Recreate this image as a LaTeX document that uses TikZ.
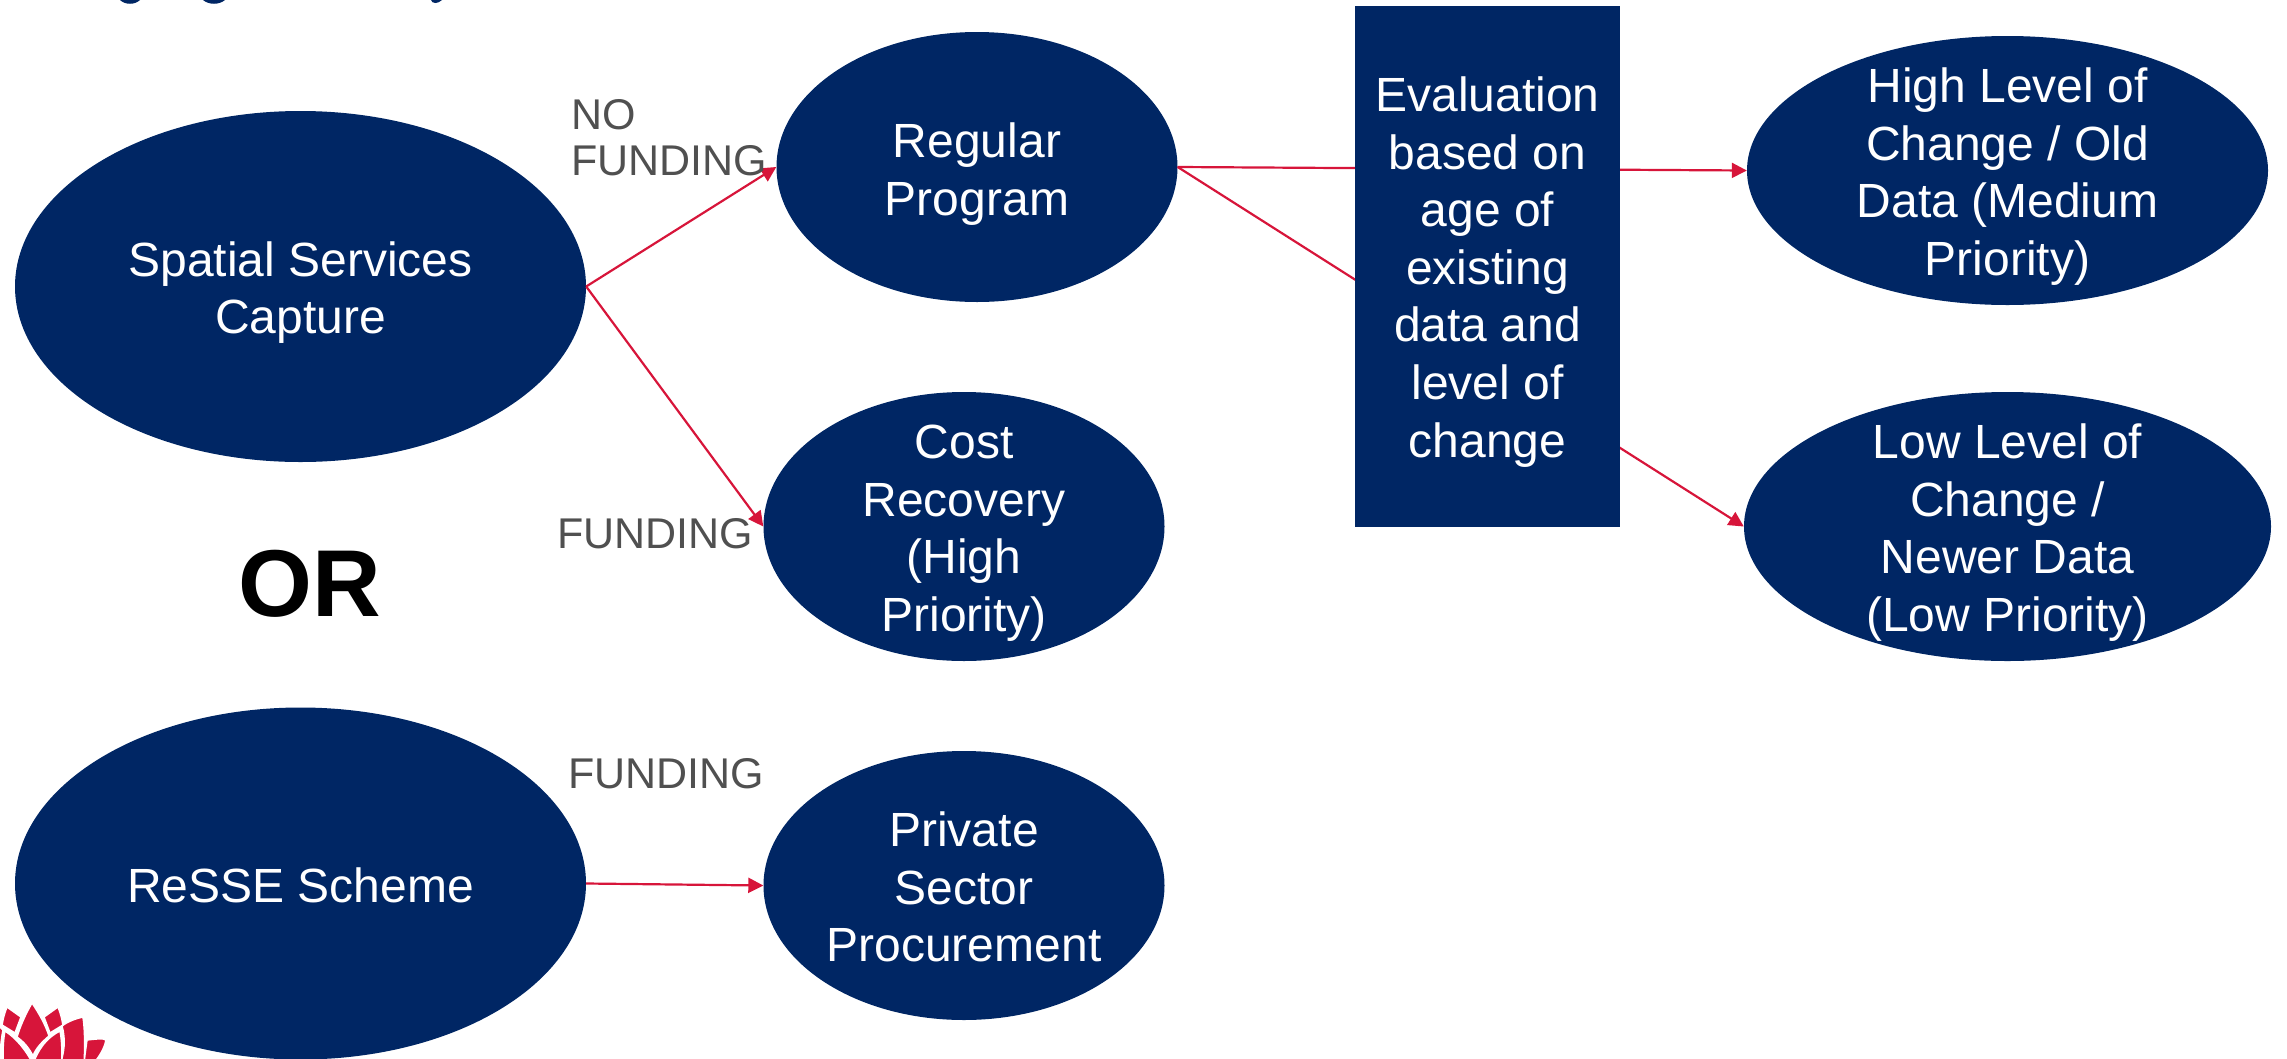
\documentclass[tikz,border=0pt]{standalone}
\usepackage{fontspec}
\setmainfont{Liberation Sans}
\usetikzlibrary{arrows.meta,shapes.geometric}
\definecolor{navy}{HTML}{002664}
\definecolor{nswred}{HTML}{D7153A}
\definecolor{lab}{HTML}{505050}
\newcommand{\stacktxt}[2][13pt]{\raisebox{-#1}[0pt][0pt]{\begin{tabular}{@{}c@{}}#2\end{tabular}}}
\tikzset{
  oval/.style={ellipse,fill=navy,text=white,inner sep=0pt,font=\fontsize{48}{57.6}\selectfont},
  evalbox/.style={rectangle,fill=navy,text=white,inner sep=0pt,font=\fontsize{48}{57.6}\selectfont},
  lnk/.style={draw=nswred,line width=2.2pt,-{Triangle[length=15pt,width=15pt]}},
  lbl/.style={text=lab,inner sep=0pt,align=left,anchor=base west,font=\fontsize{43}{46}\selectfont},
  petal/.style={fill=nswred,draw=white,line width=1.5pt,line join=round},
}
\begin{document}
\begin{tikzpicture}[x=1pt,y=-1pt]
\useasboundingbox (0,0) rectangle (2287,1058);
% cropped title descenders
\fill[navy] (120,0) .. controls (125,5) and (135,5) .. (140,0) -- cycle;
\fill[navy] (203,0) .. controls (209,5) and (219,5) .. (225,0) -- cycle;
\fill[navy] (431,0) .. controls (432,4) and (438,4) .. (442,0) -- cycle;
% logo
\begin{scope}
\clip (0,990) rectangle (115,1058);
\fill[petal] (87,1040) .. controls (95,1039) and (104,1038) .. (106,1040) .. controls (104,1050) and (99,1056) .. (95,1062) -- (84,1062) -- cycle;
\fill[petal] (83,1017) .. controls (78,1018) and (68,1021) .. (62,1026) .. controls (66,1040) and (64,1054) .. (60,1064) -- (84,1064) .. controls (85,1050) and (85,1030) .. (83,1017) -- cycle;
\fill[petal] (7,1007) .. controls (4,1014) and (3,1020) .. (2,1025) -- (15,1033) -- (21,1017) -- cycle;
\fill[petal] (58,1007) .. controls (61,1014) and (62,1020) .. (63,1025) -- (50,1033) -- (44,1017) -- cycle;
\fill[petal] (32,1003) .. controls (25,1015) and (20,1027) .. (17,1037) .. controls (24,1042) and (29,1048) .. (33,1056) .. controls (36,1048) and (42,1042) .. (49,1036) .. controls (46,1026) and (39,1013) .. (32,1003) -- cycle;
\fill[petal] (5,1031) .. controls (16,1038) and (26,1050) .. (33,1064) -- (3,1064) .. controls (3,1052) and (3,1040) .. (5,1031) -- cycle;
\fill[petal] (60,1031) .. controls (46,1038) and (38,1050) .. (33,1064) -- (62,1064) .. controls (62,1052) and (62,1040) .. (60,1031) -- cycle;
\fill[petal] (-5,1024) .. controls (-2,1025) and (1,1028) .. (3,1030) .. controls (1,1040) and (0,1052) .. (0,1064) -- (-5,1064) -- cycle;
\end{scope}
% shapes
\node[oval,minimum width=571pt,minimum height=351pt] (spatial) at (300.5,286.5) {\stacktxt[13pt]{Spatial Services\\Capture}};
\node[oval,minimum width=401pt,minimum height=270pt] (regular) at (977,167) {\stacktxt[14pt]{Regular\\Program}};
\node[oval,minimum width=401pt,minimum height=269pt] (cost) at (964,526.5) {\stacktxt[13pt]{Cost\\Recovery\\(High\\Priority)}};
\node[oval,minimum width=571pt,minimum height=352pt] (resse) at (300.5,883.5) {\stacktxt[14pt]{ReSSE Scheme}};
\node[oval,minimum width=401pt,minimum height=269pt] (private) at (964,885.5) {\stacktxt[13.5pt]{Private\\Sector\\Procurement}};
\node[oval,minimum width=521pt,minimum height=269pt] (high) at (2007.5,170.5) {\stacktxt[13pt]{High Level of\\Change / Old\\Data (Medium\\Priority)}};
\node[oval,minimum width=527pt,minimum height=269pt] (low) at (2007.5,526.5) {\stacktxt[13pt]{Low Level of\\Change /\\Newer Data\\(Low Priority)}};
% connectors
\draw[lnk] (spatial.east) -- (regular.west);
\draw[lnk] (spatial.east) -- (cost.west);
\draw[lnk] (resse.east) -- (private.west);
\draw[lnk] (regular.east) -- (high.west);
\draw[lnk] (regular.east) -- (low.west);
\node[evalbox,minimum width=265pt,minimum height=521pt] (eval) at (1487.5,266.5) {\stacktxt[12.5pt]{Evaluation\\based on\\age of\\existing\\data and\\level of\\change}};
% labels
\node[lbl] (nofund) at (571,175) {NO\\FUNDING};
\node[lbl] (fund1) at (557,548) {FUNDING};
\node[lbl] (fund2) at (568,788) {FUNDING};
\node[inner sep=0pt,anchor=base,font=\fontsize{95}{110}\selectfont\bfseries] (orword) at (310,616) {OR};
\end{tikzpicture}
\end{document}
